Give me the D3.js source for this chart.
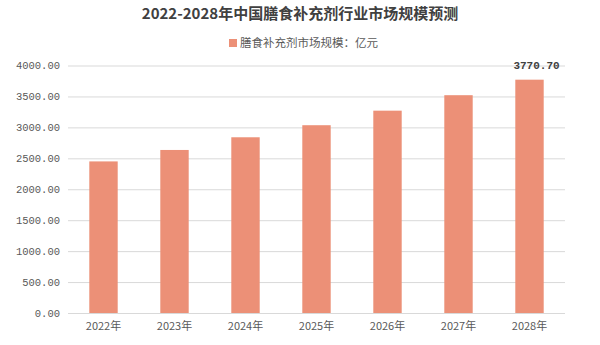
<!DOCTYPE html>
<html>
<head>
<meta charset="utf-8">
<script src="https://cdn.jsdelivr.net/npm/d3@7"></script>
<style>
  html, body { margin: 0; padding: 0; background: #fff; }
  svg { display: block; }
</style>
</head>
<body>
<svg id="chart" width="600" height="345"></svg>
<script>
// Market size forecast, 100 million yuan
const years = ["2022年", "2023年", "2024年", "2025年", "2026年", "2027年", "2028年"];
const marketSize = [2450, 2635, 2840, 3035, 3270, 3520, 3770.7];
const yTicks = [0, 500, 1000, 1500, 2000, 2500, 3000, 3500, 4000];
const labelledYear = "2028年";

const titleText = "2022-2028年中国膳食补充剂行业市场规模预测";
const legendText = "膳食补充剂市场规模：亿元";

const W = 600, H = 345;
const margin = { top: 65.5, right: 35, bottom: 32, left: 68 };
const barColor = "#EC9077";
const cjk = "'Noto Sans CJK SC', 'Noto Sans', sans-serif";

const svg = d3.select("#chart");

const x = d3.scaleBand()
  .domain(years)
  .range([margin.left, W - margin.right])
  .paddingInner(0.6)
  .paddingOuter(0.3);

const y = d3.scaleLinear()
  .domain([0, 4000])
  .range([H - margin.bottom, margin.top]);

// Title
svg.append("text")
  .attr("x", 300).attr("y", 19)
  .attr("text-anchor", "middle")
  .attr("font-family", cjk)
  .attr("font-size", 15)
  .attr("font-weight", "bold")
  .attr("fill", "#404040")
  .text(titleText);

// Legend
const legend = svg.append("g").attr("transform", "translate(229,43)");
legend.append("rect")
  .attr("x", 0).attr("y", -4)
  .attr("width", 8).attr("height", 8)
  .attr("fill", barColor);
legend.append("text")
  .attr("x", 11).attr("y", 0)
  .attr("dy", "0.35em")
  .attr("font-family", cjk)
  .attr("font-size", 11.5)
  .attr("fill", "#595959")
  .text(legendText);

// Horizontal gridlines and value axis labels
const yAxis = d3.axisLeft(y)
  .tickValues(yTicks)
  .tickFormat(d3.format(".2f"))
  .tickSize(-(W - margin.right - margin.left))
  .tickPadding(8);

const gy = svg.append("g")
  .attr("transform", `translate(${margin.left},0)`)
  .call(yAxis);
gy.select(".domain").remove();
gy.selectAll(".tick line").attr("stroke", "#d9d9d9").attr("stroke-width", 1);
gy.selectAll(".tick text")
  .attr("font-family", "'Liberation Mono', 'DejaVu Sans Mono', monospace")
  .attr("font-size", 10.5)
  .attr("fill", "#595959");

// Bars
svg.append("g")
  .selectAll("rect")
  .data(years.map((yr, i) => ({ yr, v: marketSize[i] })))
  .join("rect")
  .attr("x", d => x(d.yr))
  .attr("width", x.bandwidth())
  .attr("y", d => y(d.v))
  .attr("height", d => y(0) - y(d.v))
  .attr("fill", barColor);

// Category axis labels
const xAxis = d3.axisBottom(x).tickSize(0).tickPadding(9);
const gx = svg.append("g")
  .attr("transform", `translate(0,${H - margin.bottom})`)
  .call(xAxis);
gx.select(".domain").remove();
gx.selectAll(".tick text")
  .attr("font-family", cjk)
  .attr("font-size", 11)
  .attr("fill", "#595959");

// Value label on the final year
const li = years.indexOf(labelledYear);
svg.append("text")
  .attr("x", x(labelledYear) + x.bandwidth() / 2 + 7)
  .attr("y", y(marketSize[li]) - 15)
  .attr("dy", "0.35em")
  .attr("text-anchor", "middle")
  .attr("font-family", "'Liberation Mono', 'DejaVu Sans Mono', monospace")
  .attr("font-size", 11)
  .attr("font-weight", "bold")
  .attr("fill", "#404040")
  .text(d3.format(".2f")(marketSize[li]));
</script>
</body>
</html>
